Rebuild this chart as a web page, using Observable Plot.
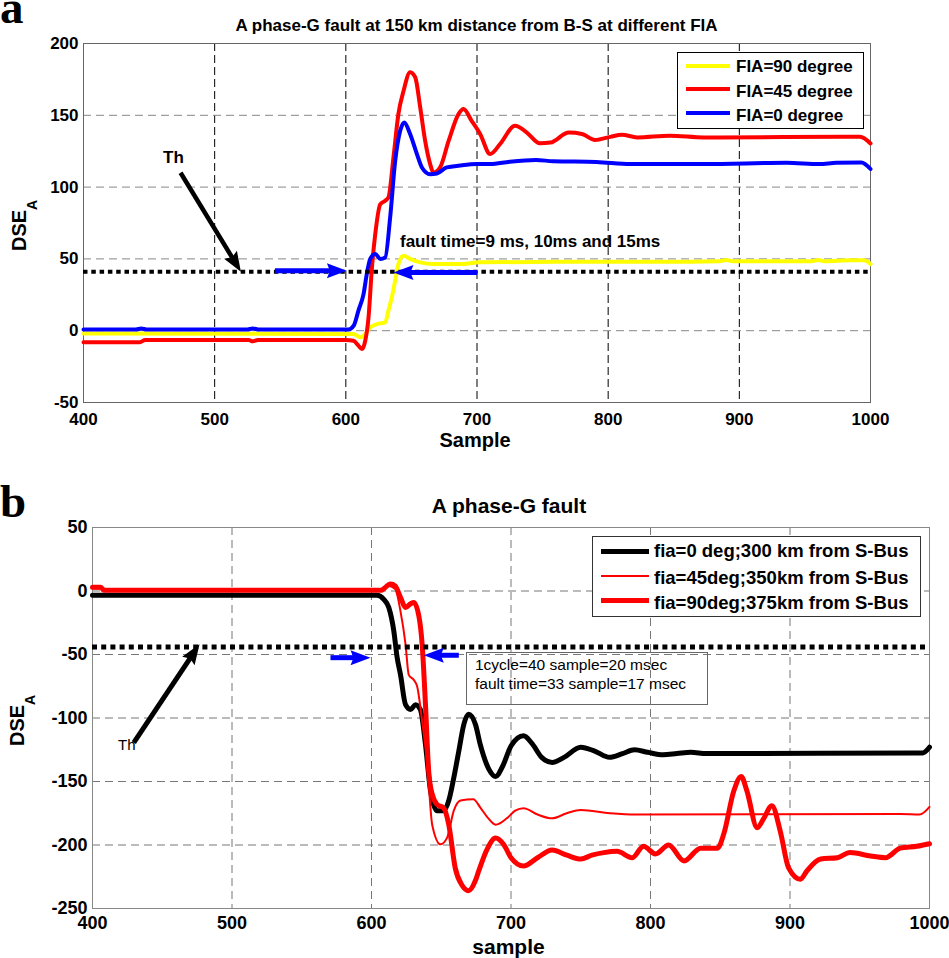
<!DOCTYPE html>
<html>
<head>
<meta charset="utf-8">
<script src="https://cdn.jsdelivr.net/npm/d3@7"></script>
<script src="https://cdn.jsdelivr.net/npm/@observablehq/plot@0.6"></script>
<style>
  html, body { margin: 0; padding: 0; background: #fff; }
  #wrap { position: relative; width: 949px; height: 958px; overflow: hidden; background: #fff;
          font-family: "Liberation Sans", Arial, Helvetica, sans-serif; color: #000; }
  .abs { position: absolute; white-space: nowrap; line-height: 1; }
  .b { font-weight: bold; }
  .serif { font-family: "Liberation Serif", "Times New Roman", serif; font-weight: bold; }
  .ylab { position: absolute; white-space: nowrap; line-height: 1; font-weight: bold; font-size: 20px;
          transform: rotate(-90deg); transform-origin: left top; }
  .leg { position: absolute; background: #fff; }
  .lline { position: absolute; }
</style>
</head>
<body>
<div id="wrap">
  <div id="pa" style="position:absolute;left:0;top:0"></div>
  <div id="pb" style="position:absolute;left:0;top:470px"></div>
</div>
<script>
// ---------------- DATA ----------------
const xTicks = [400, 500, 600, 700, 800, 900, 1000];
const yTicksA = [-50, 0, 50, 100, 150, 200];
const yTicksB = [-250, -200, -150, -100, -50, 0, 50];

// Panel a: [sample, DSE_A]
const aFia90 = [[400,-1.9],[605.8,-2.3],[611,-4.6],[614.8,-2.3],[618.6,2.3],[623.7,4.6],[630,5.8],[632.5,14],[635,23],[637.6,34.8],[640.1,46.4],[644,52.2],[649,50],[656.7,47.6],[666.8,46.4],[687,46.4],[702,47.6],[760,48],[840,48],[885,48.4],[890,49.2],[895,48.4],[955,48.4],[960,49.2],[965,48.4],[985,49],[995,49],[1000,46.4]];
const aFia45 = [[400,-8],[443,-8],[447,-6.5],[526,-6.5],[529,-7.4],[533,-6.5],[600,-6.5],[605.8,-7],[609.6,-10.4],[612.3,-12.8],[614.8,-7],[617.3,9.3],[619.9,44],[622.4,67],[626.2,88],[630,90.5],[632.5,92.8],[636.3,120.7],[640.1,151],[644,167],[649,180],[652.9,176.5],[656.7,155.5],[660.5,132],[664.3,116],[666.8,110],[671.9,113.7],[678.3,132],[686,151],[689.7,154.4],[696,146],[702.4,137],[710,123],[717.6,130],[729,142.8],[738,138],[748,130.5],[756,131],[770,138],[780,137],[790,132.8],[801.6,135],[810.5,136.5],[822,134.6],[847,135.8],[873,134.6],[992,135],[1000,130.4]];
const aFia0 = [[400,0.8],[440,0.8],[444,1.6],[448,0.8],[525,0.8],[529,1.6],[534,0.8],[602,0.8],[606,3.5],[609.6,14],[613.5,25.5],[616,39.5],[618.6,50],[622.4,53.4],[626.2,50],[630,51],[633.8,79],[637.6,118],[641.4,139],[644.5,145],[649,137],[654.2,123],[658,113.7],[664.3,109],[669.4,109.5],[677,113.7],[687,115],[700,116],[710,116],[725,117.7],[745,118.9],[758,118],[791,117.5],[817,116],[873,116],[936,117],[961,116],[974,117],[993,117.2],[1000,112.6]];
const aThreshold = [41];
const aBlueArrows = [{x1:546, y1:41.8, x2:600.8, y2:41.8}, {x1:700, y1:40.6, x2:636.3, y2:40.6}];
const aBlackArrows = [{x1:474, y1:110, x2:520, y2:41}];

// Panel b
const bFia0 = [[400,-3.4],[604,-3.4],[608.8,-6.6],[612.4,-13],[616,-31.5],[618.4,-52.5],[620.8,-66],[624.4,-89.5],[628,-93.3],[631.5,-89.5],[635,-93.3],[638.7,-121],[642.3,-157.5],[647,-173],[651.8,-173],[655.4,-165],[659,-147],[662.6,-126],[666.2,-105],[669.6,-97],[674.5,-105],[678,-121],[684,-140],[689,-146],[694,-138],[700,-122],[709,-114],[715,-120],[722,-131],[729.5,-135],[738,-131],[750,-123],[760,-126],[770.6,-131],[780,-128],[788.6,-125],[798,-127],[809,-129],[819,-128],[829,-127],[840,-128],[850,-128],[990,-127.5],[995,-127.5],[1000,-123]];
const bFia45 = [[400,2],[408,2],[410,0.5],[606.5,0.5],[612.4,4],[617,1.5],[620.8,-16],[624.4,-42],[626.7,-66],[630.3,-70],[632.7,-75],[636.3,-102.5],[640,-136.5],[643.5,-184],[649.5,-199.5],[654.3,-194],[659,-173],[663.8,-165],[673,-164],[678,-170.5],[683,-178],[689,-184],[697,-179],[703,-173],[709,-171],[719,-176],[729.5,-179],[740,-175],[750,-172.5],[771,-175],[790,-176],[979,-175.5],[993,-176],[1000,-170]];
const bFia90 = [[400,3],[406,3],[408,0.5],[606.5,0.5],[613.6,5.5],[617,4],[620.8,-5],[624.4,-13],[628,-10],[630.3,-9],[634,-20],[636.3,-42],[638.7,-89.5],[641,-142],[643.5,-160],[647,-168],[651.8,-171],[655.4,-184],[660,-218],[664.8,-231.5],[669.6,-236],[674.5,-228],[677,-220],[683,-203],[689,-194.5],[695,-200],[700,-210],[709,-216.5],[719,-210],[729.5,-204],[740,-208],[750,-211],[758,-208],[766.5,-206],[776,-205],[787,-210],[795,-201],[803.6,-207],[813,-200],[824,-212.5],[836,-202.5],[848,-202.5],[852.6,-191],[859.7,-157.5],[865,-146],[869,-157],[876.5,-186.5],[881,-179.5],[887,-169],[893,-189],[899,-218],[907.5,-227],[912,-220.5],[922,-211],[934,-210],[943,-206],[957.7,-208.6],[968.5,-210],[979,-202.5],[991,-201],[1000,-199]];
const bThreshold = [-44];
const bBlueArrows = [{x1:570.6, y1:-52.5, x2:599.3, y2:-52.5}, {x1:662.6, y1:-50.6, x2:637.5, y2:-50.6}];
const bBlackArrows = [{x1:429.6, y1:-119.4, x2:476.7, y2:-42}];

// Text
const titleA = "A phase-G fault at 150 km distance from B-S at different FIA";
const titleB = "A phase-G fault";
const legendA = [{label:"FIA=90 degree", color:"#ffff00", w:4}, {label:"FIA=45 degree", color:"#ff0000", w:4}, {label:"FIA=0 degree", color:"#0000ff", w:4}];
const legendB = [{label:"fia=0 deg;300 km from S-Bus", color:"#000000", w:5}, {label:"fia=45deg;350km from S-Bus", color:"#ff0000", w:2}, {label:"fia=90deg;375km from S-Bus", color:"#ff0000", w:5.5}];

// ---------------- HELPERS ----------------
const FONT = '"Liberation Sans", Arial, Helvetica, sans-serif';
const W = 949;
const headSymbol = {
  draw(ctx, size) {
    const r = Math.sqrt(size / Math.PI);
    const L = 2 * r, H = 0.75 * r;
    ctx.moveTo(0, 0); ctx.lineTo(-L, -H); ctx.lineTo(-0.85 * L, 0); ctx.lineTo(-L, H); ctx.closePath();
  }
};
function angleOf(a, cfg) {
  const sx = (W - cfg.ml - cfg.mr) / (cfg.xd[1] - cfg.xd[0]);
  const sy = (cfg.h - cfg.mt - cfg.mb) / (cfg.yd[1] - cfg.yd[0]);
  return Math.atan2(-(a.y2 - a.y1) * sy, (a.x2 - a.x1) * sx) * 180 / Math.PI;
}
function arrowMarks(list, cfg, color, width, r) {
  const marks = [Plot.arrow(list, {x1:"x1", y1:"y1", x2:"x2", y2:"y2", stroke:color, strokeWidth:width, headLength:0, insetEnd: r * 1.1, strokeLinecap:"butt"})];
  list.forEach(a => marks.push(Plot.dot([a], {x:"x2", y:"y2", symbol: headSymbol, r, fill: color, stroke: "none", rotate: angleOf(a, cfg)})));
  return marks;
}
const X = d => d[0], Y = d => d[1];

// ---------------- PANEL A ----------------
const cfgA = {h:470, mt:43, mb:68, ml:83, mr:79, xd:[400,1000], yd:[-50,200]};
const plotA = Plot.plot({
  width: W, height: cfgA.h, marginTop: cfgA.mt, marginBottom: cfgA.mb, marginLeft: cfgA.ml, marginRight: cfgA.mr,
  style: {fontFamily: FONT, color: "#000", background: "transparent"},
  x: {domain: cfgA.xd, label: null},
  y: {domain: cfgA.yd, label: null},
  marks: [
    Plot.gridX(xTicks, {stroke: "#000", strokeOpacity: 1, strokeDasharray: "8,4", strokeWidth: 1}),
    Plot.gridY(yTicksA, {stroke: "#888", strokeOpacity: 1, strokeDasharray: "8,5", strokeWidth: 1}),
    Plot.frame({stroke: "#666"}),
    Plot.line(aFia90, {x: X, y: Y, stroke: "#ffff00", strokeWidth: 4, curve: "monotone-x"}),
    Plot.line(aFia45, {x: X, y: Y, stroke: "#ff0000", strokeWidth: 4, curve: "monotone-x"}),
    Plot.line(aFia0, {x: X, y: Y, stroke: "#0000ff", strokeWidth: 4, curve: "monotone-x"}),
    Plot.ruleY(aThreshold, {stroke: "#000", strokeWidth: 4, strokeDasharray: "4.5,3.8"}),
    ...arrowMarks(aBlueArrows, cfgA, "#0000ff", 5, 10),
    ...arrowMarks(aBlackArrows, cfgA, "#000", 4.5, 10),
    Plot.axisX(xTicks, {tickSize: 0, tickPadding: 10, fontSize: 17, fontWeight: "bold", tickFormat: d => String(d), label: null}),
    Plot.axisY(yTicksA, {tickSize: 0, tickPadding: 5, fontSize: 17, fontWeight: "bold", tickFormat: d => String(d), label: null})
  ]
});
document.getElementById("pa").appendChild(plotA);

// ---------------- PANEL B ----------------
const cfgB = {h:488, mt:57, mb:50, ml:92, mr:20, xd:[400,1000], yd:[-250,50]};
const plotB = Plot.plot({
  width: W, height: cfgB.h, marginTop: cfgB.mt, marginBottom: cfgB.mb, marginLeft: cfgB.ml, marginRight: cfgB.mr,
  style: {fontFamily: FONT, color: "#000", background: "transparent"},
  x: {domain: cfgB.xd, label: null},
  y: {domain: cfgB.yd, label: null},
  marks: [
    Plot.gridX(xTicks, {stroke: "#777", strokeOpacity: 1, strokeDasharray: "8,5", strokeWidth: 1}),
    Plot.gridY(yTicksB, {stroke: "#777", strokeOpacity: 1, strokeDasharray: "8,5", strokeWidth: 1}),
    Plot.frame({stroke: "#888"}),
    Plot.line(bFia0, {x: X, y: Y, stroke: "#000", strokeWidth: 5, curve: "monotone-x"}),
    Plot.line(bFia45, {x: X, y: Y, stroke: "#ff0000", strokeWidth: 2, curve: "monotone-x"}),
    Plot.line(bFia90, {x: X, y: Y, stroke: "#ff0000", strokeWidth: 5, curve: "monotone-x"}),
    Plot.ruleY(bThreshold, {stroke: "#000", strokeWidth: 5, strokeDasharray: "5,4.2"}),
    ...arrowMarks(bBlueArrows, cfgB, "#0000ff", 5, 10),
    ...arrowMarks(bBlackArrows, cfgB, "#000", 5, 10),
    Plot.axisX(xTicks, {tickSize: 0, tickPadding: 8, fontSize: 18, fontWeight: "bold", tickFormat: d => String(d), label: null}),
    Plot.axisY(yTicksB, {tickSize: 0, tickPadding: 5, fontSize: 18, fontWeight: "bold", tickFormat: d => String(d), label: null})
  ]
});
document.getElementById("pb").appendChild(plotB);

// ---------------- OVERLAY TEXT ----------------
const wrap = document.getElementById("wrap");
function addText(txt, left, top, size, cls, extra) {
  const d = document.createElement("div");
  d.className = "abs " + (cls || "");
  d.textContent = txt;
  d.style.left = left + "px"; d.style.top = top + "px"; d.style.fontSize = size + "px";
  if (extra) Object.assign(d.style, extra);
  wrap.appendChild(d);
  return d;
}
// panel labels
addText("a", 0, 0, 47, "serif", {lineHeight: "15px"});
addText("b", 0, 478, 47, "serif");
// titles
addText(titleA, 476.5, 16.6, 17, "b", {transform: "translateX(-50%)"});
addText(titleB, 509, 495, 21, "b", {transform: "translateX(-50%)"});
// x labels
addText("Sample", 475, 430, 20, "b", {transform: "translateX(-50%)"});
addText("sample", 508.5, 935.5, 21, "b", {transform: "translateX(-50%)"});
// y labels
function addYLabel(left, top) {
  const d = document.createElement("div");
  d.className = "ylab";
  d.style.left = left + "px"; d.style.top = top + "px";
  d.innerHTML = 'DSE<span style="font-size:14px;position:relative;top:11px">A</span>';
  wrap.appendChild(d);
}
addYLabel(9, 251);
addYLabel(7.4, 746);
// annotations
addText("Th", 163, 149, 17, "b");
addText("fault time=9 ms, 10ms and 15ms", 400, 232.6, 17, "b");
addText("Th", 118, 737.3, 15, "");
// text box b
const box = document.createElement("div");
box.style.cssText = "position:absolute;left:466px;top:652px;width:242px;height:53px;border:1px solid #666;box-sizing:border-box;";
wrap.appendChild(box);
const boxText = document.createElement("div");
boxText.className = "abs";
boxText.style.cssText += "left:475px;top:655px;font-size:15.5px;line-height:19px;";
boxText.innerHTML = "1cycle=40 sample=20 msec<br>fault time=33 sample=17 msec";
wrap.appendChild(boxText);

// legends
function addLegend(items, box, lineX, lineW, lineYs, textX, textTops, size, border) {
  const b = document.createElement("div");
  b.className = "leg";
  b.style.cssText += `left:${box[0]}px;top:${box[1]}px;width:${box[2]}px;height:${box[3]}px;border:1px solid ${border};box-sizing:border-box;`;
  wrap.appendChild(b);
  items.forEach((it, i) => {
    const l = document.createElement("div");
    l.className = "lline";
    l.style.cssText = `position:absolute;left:${lineX}px;top:${lineYs[i] - it.w / 2}px;width:${lineW}px;height:${it.w}px;background:${it.color};`;
    wrap.appendChild(l);
    addText(it.label, textX, textTops[i], size, "b");
  });
}
addLegend(legendA, [677, 52, 187, 77], 686, 44, [65.7, 89.3, 113.3], 736, [58.3, 82.9, 107.3], 17, "#000");
addLegend(legendB, [592, 536, 329, 81], 601, 48, [551, 576, 600.7], 654, [541.6, 568.6, 594.3], 18.5, "#333");
</script>
</body>
</html>
